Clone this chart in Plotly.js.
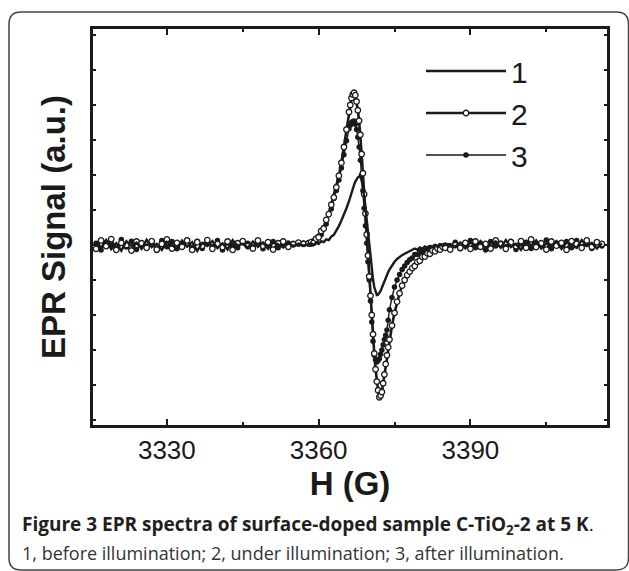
<!DOCTYPE html>
<html><head><meta charset="utf-8">
<script src="https://cdn.plot.ly/plotly-3.0.1.min.js"></script>
<style>html,body{margin:0;padding:0;background:#fff}</style>
</head><body><div id="chart" style="width:629px;height:571px"></div>
<script>
// Magnetic field H (G)
const fieldG = [
 3316,3317,3318,3319,3320,3321,3322,3323,3324,3325,
 3326,3327,3328,3329,3330,3331,3332,3333,3334,3335,
 3336,3337,3338,3339,3340,3341,3342,3343,3344,3345,
 3346,3347,3348,3349,3350,3351,3352,3353,3354,3355,
 3356,3357,3358,
 3358.5,3359,3359.5,3360,3360.5,3361,3361.5,3362,3362.5,3363,
 3363.5,3364,3364.5,3365,3365.5,3366,
 3366.25,3366.5,3366.75,3367,3367.25,3367.5,3367.75,3368,
 3368.25,3368.5,3368.75,3369,3369.25,3369.5,3369.75,3370,
 3370.25,3370.5,3370.75,3371,3371.25,3371.5,3371.75,3372,
 3372.25,3372.5,3372.75,3373,3373.25,3373.5,3373.75,3374,
 3374.5,3375,3375.5,3376,3376.5,3377,3377.5,3378,3378.5,3379,
 3379.5,3380,3380.5,3381,3381.5,3382,3382.5,3383,3383.5,3384,
 3384.5,3385,
 3386,3387,3388,3389,3390,3391,3392,3393,3394,3395,
 3396,3397,3398,3399,3400,3401,3402,3403,3404,3405,
 3406,3407,3408,3409,3410,3411,3412,3413,3414,3415,
 3416
];
// 1, before illumination
const signalBefore = [
 0.10,-0.08,0.14,-0.12,0.05,-0.16,0.11,-0.03,0.07,-0.11,
 0.15,-0.06,0.03,-0.14,0.09,0.00,-0.10,0.13,-0.05,0.08,
 -0.17,0.06,-0.03,0.11,-0.09,0.05,-0.13,0.14,-0.02,0.03,
 -0.08,0.10,-0.05,0.07,-0.11,0.08,0.02,-0.07,0.05,-0.03,
 0.04,-0.02,0.03,
 0.05,0.00,0.07,0.03,0.11,0.08,0.16,0.14,0.24,0.29,
 0.40,0.54,0.70,0.86,1.05,1.25,
 1.38,1.50,1.62,1.72,1.81,1.88,1.93,1.96,
 1.94,1.85,1.65,1.40,1.07,0.70,0.32,-0.05,
 -0.40,-0.70,-0.98,-1.20,-1.35,-1.43,-1.42,-1.38,
 -1.31,-1.22,-1.12,-1.02,-0.93,-0.85,-0.77,-0.70,
 -0.58,-0.48,-0.40,-0.34,-0.29,-0.25,-0.21,-0.18,-0.15,-0.10,
 -0.14,-0.07,-0.11,-0.04,-0.08,-0.03,-0.06,0.00,-0.05,0.02,
 -0.03,0.01,
 0.03,-0.05,0.07,-0.10,0.08,-0.03,0.11,-0.13,0.05,0.10,
 -0.08,0.14,-0.06,0.03,-0.14,0.10,-0.02,0.13,-0.10,0.05,
 -0.05,0.11,-0.11,0.08,0.00,-0.08,0.14,-0.03,0.06,-0.10,
 0.05
];
// 2, under illumination
const signalUnder = [
 -0.11,0.13,-0.03,0.17,-0.14,0.06,0.00,-0.16,0.10,0.05,
 -0.08,0.11,-0.13,0.03,0.16,-0.10,0.06,-0.05,0.13,-0.14,
 0.08,-0.02,0.14,-0.11,0.03,-0.06,0.10,-0.14,0.05,0.11,
 -0.03,-0.10,0.13,-0.02,0.08,-0.13,0.05,0.10,-0.05,0.02,
 0.07,0.03,0.05,
 0.08,0.06,0.18,0.22,0.40,0.47,0.72,0.88,1.15,1.36,
 1.65,1.98,2.35,2.80,3.30,3.80,
 4.00,4.20,4.30,4.35,4.28,4.10,3.85,3.55,
 3.15,2.60,2.05,1.45,0.90,0.30,-0.30,-0.90,
 -1.45,-2.00,-2.55,-3.10,-3.55,-3.90,-4.15,-4.35,
 -4.30,-4.20,-3.95,-3.70,-3.40,-3.15,-2.92,-2.70,
 -2.30,-1.94,-1.62,-1.38,-1.16,-1.00,-0.86,-0.76,-0.66,-0.60,
 -0.48,-0.45,-0.34,-0.33,-0.24,-0.25,-0.16,-0.18,-0.10,-0.13,
 -0.05,-0.08,
 -0.13,0.00,-0.08,0.06,-0.11,0.10,-0.05,0.03,-0.10,0.13,
 0.02,-0.11,0.08,-0.03,0.11,-0.08,0.16,-0.06,0.05,-0.13,
 0.10,-0.02,0.06,-0.14,0.11,0.03,-0.08,0.13,-0.05,0.08,
 0.03
];
// 3, after illumination
const signalAfter = [
 0.05,-0.14,0.08,0.00,-0.10,0.16,-0.06,0.11,-0.13,0.03,
 -0.03,0.08,-0.16,0.13,-0.05,0.10,-0.11,0.02,0.14,-0.08,
 0.11,-0.10,0.05,-0.05,0.13,-0.14,0.06,0.00,-0.08,0.10,
 0.05,-0.06,0.08,-0.11,0.03,0.10,-0.08,0.03,0.06,0.05,
 0.02,0.06,0.03,
 0.02,0.12,0.11,0.26,0.29,0.50,0.60,0.87,1.03,1.33,
 1.56,1.86,2.20,2.58,2.98,3.32,
 3.42,3.50,3.53,3.54,3.45,3.30,3.08,2.80,
 2.42,2.00,1.55,1.05,0.55,0.05,-0.48,-1.00,
 -1.60,-2.20,-2.75,-3.15,-3.28,-3.34,-3.30,-3.25,
 -3.12,-3.00,-2.85,-2.70,-2.58,-2.43,-2.15,-1.85,
 -1.50,-1.20,-1.00,-0.84,-0.70,-0.60,-0.50,-0.42,-0.37,-0.27,
 -0.27,-0.18,-0.20,-0.11,-0.15,-0.07,-0.11,-0.04,-0.08,-0.02,
 -0.06,0.00,
 -0.06,0.08,-0.11,0.02,0.13,-0.08,0.05,-0.14,0.10,-0.03,
 0.06,-0.05,0.11,-0.13,0.03,0.08,-0.10,0.05,-0.02,0.14,
 -0.11,0.06,-0.03,0.10,-0.08,0.13,-0.05,0.02,-0.10,0.06,
 -0.03
];
const seriesNames = ['1', '2', '3'];
const xTickVals = [3330, 3360, 3390];
const xTickText = ['3330', '3360', '3390'];
const xMinorTickVals = [3345, 3375, 3405];
const xTitle = 'H (G)';
const yTitle = 'EPR Signal (a.u.)';
const captionTitle = '<b>Figure 3 EPR spectra of surface-doped sample C-TiO<sub>2</sub>-2 at 5 K</b>.';
const captionText = '1, before illumination; 2, under illumination; 3, after illumination.';

// ---- layout geometry (pixels) ----
const W = 629, H = 571;
const L = 93, R = 607, T = 29, B = 425;
const px2x = p => (p - L) / (R - L);
const py2y = p => (B - p) / (B - T);
const INK = '#1a1a1a';

function roundedRect(x0, y0, x1, y1, r) {
  const X = px2x, Y = py2y;
  return 'M' + X(x0 + r) + ',' + Y(y0) +
    ' L' + X(x1 - r) + ',' + Y(y0) +
    ' Q' + X(x1) + ',' + Y(y0) + ' ' + X(x1) + ',' + Y(y0 + r) +
    ' L' + X(x1) + ',' + Y(y1 - r) +
    ' Q' + X(x1) + ',' + Y(y1) + ' ' + X(x1 - r) + ',' + Y(y1) +
    ' L' + X(x0 + r) + ',' + Y(y1) +
    ' Q' + X(x0) + ',' + Y(y1) + ' ' + X(x0) + ',' + Y(y1 - r) +
    ' L' + X(x0) + ',' + Y(y0 + r) +
    ' Q' + X(x0) + ',' + Y(y0) + ' ' + X(x0 + r) + ',' + Y(y0) + ' Z';
}

const traces = [
  {
    x: fieldG, y: signalAfter, name: seriesNames[2], type: 'scatter', mode: 'lines+markers',
    line: {color: INK, width: 1.4},
    marker: {symbol: 'circle', size: 5.5, color: INK}
  },
  {
    x: fieldG, y: signalUnder, name: seriesNames[1], type: 'scatter', mode: 'lines+markers',
    line: {color: INK, width: 2.6},
    marker: {symbol: 'circle', size: 5.5, color: '#ffffff', line: {color: INK, width: 1.3}}
  },
  {
    x: fieldG, y: signalBefore, name: seriesNames[0], type: 'scatter', mode: 'lines',
    line: {color: INK, width: 2.4}
  }
];

const layout = {
  width: W, height: H,
  margin: {l: L, r: W - R, t: T, b: H - B, pad: 0},
  paper_bgcolor: '#ffffff', plot_bgcolor: '#ffffff',
  font: {family: 'Liberation Sans, Arial, sans-serif', color: INK},
  showlegend: true,
  legend: {
    x: px2x(421), y: py2y(45), xanchor: 'left', yanchor: 'top',
    traceorder: 'reversed', bgcolor: 'rgba(0,0,0,0)', borderwidth: 0,
    font: {size: 30, family: 'Liberation Sans, Arial, sans-serif', color: INK},
    itemwidth: 80, tracegroupgap: 0
  },
  xaxis: {
    range: [3315.4, 3417.0],
    tickmode: 'array', tickvals: xTickVals, ticktext: xTickText,
    ticks: 'inside', ticklen: 6, tickwidth: 2, tickcolor: INK,
    minor: {tickmode: 'array', tickvals: xMinorTickVals, ticks: 'inside', ticklen: 3, tickwidth: 2, tickcolor: INK, showgrid: false},
    showline: true, linewidth: 3, linecolor: INK, mirror: 'allticks',
    showgrid: false, zeroline: false,
    tickfont: {size: 26, color: INK, family: 'Liberation Sans, Arial, sans-serif'},
    title: {text: xTitle, font: {size: 33, weight: 'bold', color: INK}, standoff: 8}
  },
  yaxis: {
    range: [-5.143, 6.171], tick0: 0, dtick: 1,
    ticks: 'inside', ticklen: 3, tickwidth: 1.5, tickcolor: INK,
    showticklabels: false,
    showline: true, linewidth: 3, linecolor: INK, mirror: 'allticks',
    showgrid: false, zeroline: false,
    title: {text: yTitle, font: {size: 33, weight: 'bold', color: INK}, standoff: 15}
  },
  shapes: [
    {type: 'path', xref: 'paper', yref: 'paper', path: roundedRect(9, 12, 628.5, 570, 12),
     line: {color: '#444', width: 1.5}, fillcolor: 'rgba(0,0,0,0)', layer: 'below'}
  ],
  annotations: [
    {xref: 'paper', yref: 'paper', x: px2x(20), y: py2y(525), xanchor: 'left', yanchor: 'middle',
     showarrow: false, text: captionTitle, align: 'left',
     font: {family: 'Open Sans, sans-serif', size: 19, color: '#231f20'}},
    {xref: 'paper', yref: 'paper', x: px2x(20), y: py2y(553), xanchor: 'left', yanchor: 'middle',
     showarrow: false, text: captionText, align: 'left',
     font: {family: 'Open Sans, sans-serif', size: 18, color: '#333333'}}
  ]
};

Plotly.newPlot('chart', traces, layout, {displayModeBar: false, staticPlot: true});
</script>
</body></html>
